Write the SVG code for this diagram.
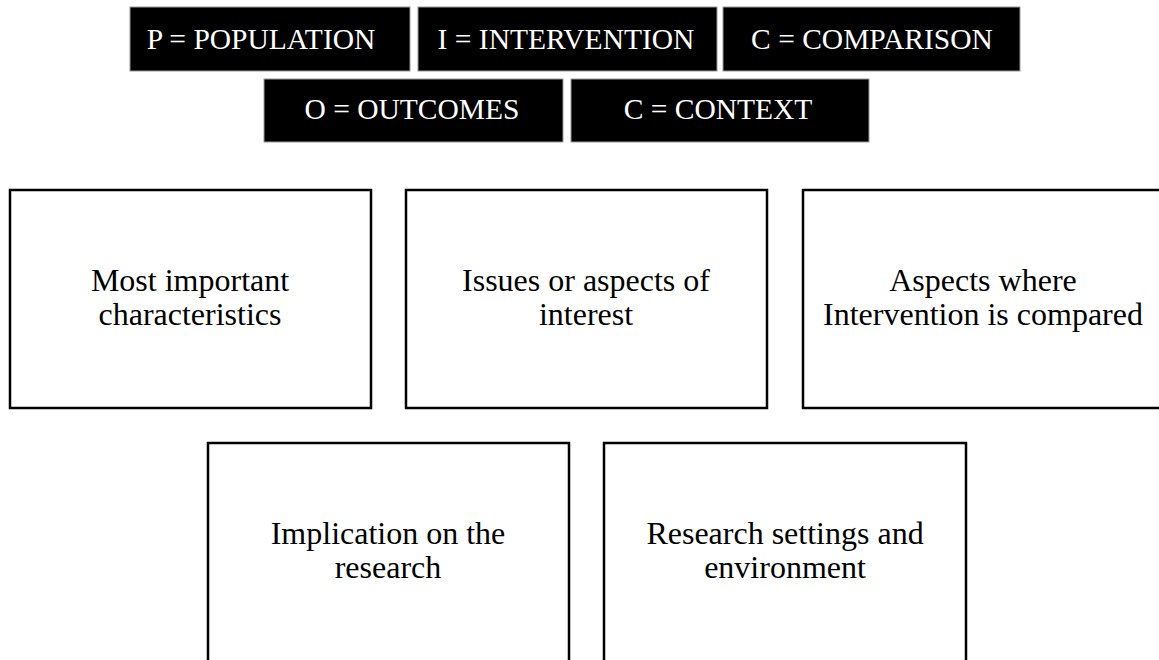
<svg xmlns="http://www.w3.org/2000/svg" width="1159" height="660" viewBox="0 0 1159 660">
<style>
.hdr{fill:#000;stroke:#999;stroke-width:1}
.ht{fill:#fff;font-family:"Liberation Serif","Times New Roman",serif;font-size:29.5px;text-anchor:middle}
.box{fill:#fff;stroke:#000;stroke-width:2.5}
.bt{fill:#000;font-family:"Liberation Serif","Times New Roman",serif;font-size:32px;text-anchor:middle}
</style>
<rect width="1159" height="660" fill="#fff"/>
<g id="hdr-p"><rect class="hdr" x="130" y="7" width="280" height="64"/><text class="ht" x="261" y="49">P = POPULATION</text></g>
<g id="hdr-i"><rect class="hdr" x="418" y="7" width="299" height="64"/><text class="ht" x="566" y="49">I = INTERVENTION</text></g>
<g id="hdr-c"><rect class="hdr" x="723" y="7" width="297" height="64"/><text class="ht" x="872" y="49">C = COMPARISON</text></g>
<g id="hdr-o"><rect class="hdr" x="264" y="79" width="299" height="63"/><text class="ht" x="412" y="119">O = OUTCOMES</text></g>
<g id="hdr-ctx"><rect class="hdr" x="571" y="79" width="298" height="63"/><text class="ht" x="718" y="119">C = CONTEXT</text></g>
<g id="box-p"><rect class="box" x="10" y="190" width="361" height="218"/><text class="bt" x="190" y="291">Most important</text><text class="bt" x="190" y="325">characteristics</text></g>
<g id="box-i"><rect class="box" x="406" y="190" width="361" height="218"/><text class="bt" x="586" y="291">Issues or aspects of</text><text class="bt" x="586" y="325">interest</text></g>
<g id="box-c"><rect class="box" x="803" y="190" width="362" height="218"/><text class="bt" x="983" y="291">Aspects where</text><text class="bt" x="983" y="325">Intervention is compared</text></g>
<g id="box-o"><rect class="box" x="208" y="443" width="361" height="230"/><text class="bt" x="388" y="544">Implication on the</text><text class="bt" x="388" y="578">research</text></g>
<g id="box-ctx"><rect class="box" x="604" y="443" width="362" height="230"/><text class="bt" x="785" y="544">Research settings and</text><text class="bt" x="785" y="578">environment</text></g>
<g id="connectors"/>
</svg>
